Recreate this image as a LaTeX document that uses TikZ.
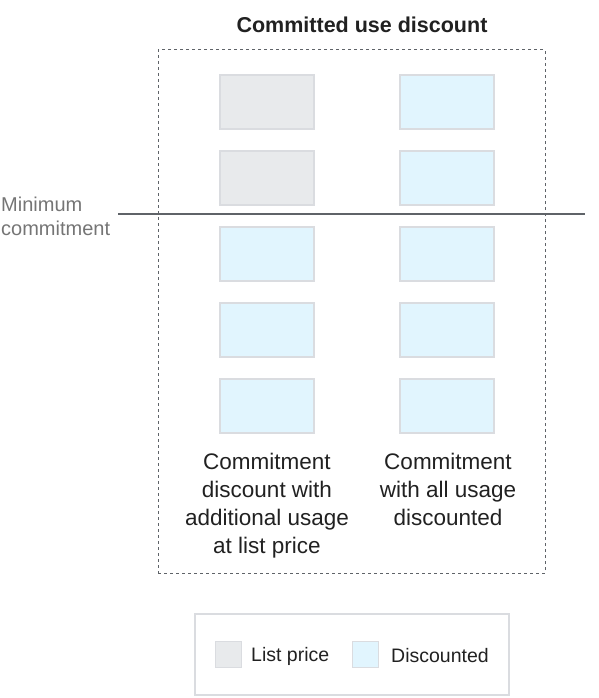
\documentclass[tikz,border=0pt]{standalone}
\usepackage{fontspec}
\setmainfont{Liberation Sans}
\definecolor{txt}{HTML}{212121}
\definecolor{graytxt}{HTML}{757575}
\definecolor{lp}{HTML}{E8EAEC}
\definecolor{dc}{HTML}{E1F5FE}
\definecolor{bd}{HTML}{DADCE0}
\definecolor{ln}{HTML}{5F6368}
\begin{document}
\begin{tikzpicture}[x=1pt,y=-1pt,
  cell/.style={draw=bd,line width=1.5pt,minimum width=94pt,minimum height=54pt,inner sep=0pt},
  listcell/.style={cell,fill=lp},
  disccell/.style={cell,fill=dc},
  swatch/.style={draw=bd,line width=1.5pt,minimum width=26pt,minimum height=26pt,inner sep=0pt},
  body/.style={text=txt,font=\fontsize{22.5}{28}\selectfont,align=center,inner sep=0pt},
  legtext/.style={text=txt,font=\fontsize{19.5}{22}\selectfont,anchor=west,inner sep=0pt}]
\useasboundingbox (0,0) rectangle (598,698);
% title
\node[text=txt,font=\fontsize{21.5}{24}\selectfont\bfseries,inner sep=0pt] (title) at (362,25) {Committed use discount};
% dashed frame
\node[draw=ln,dashed,dash pattern=on 3pt off 3pt,line width=1pt,minimum width=387pt,minimum height=523pt,inner sep=0pt] (frame) at (351.5,311.5) {};
% cells
\node[listcell] (l1) at (267,102) {};
\node[listcell] (l2) at (267,178) {};
\node[disccell] (l3) at (267,254) {};
\node[disccell] (l4) at (267,330) {};
\node[disccell] (l5) at (267,406) {};
\node[disccell] (r1) at (447,102) {};
\node[disccell] (r2) at (447,178) {};
\node[disccell] (r3) at (447,254) {};
\node[disccell] (r4) at (447,330) {};
\node[disccell] (r5) at (447,406) {};
% minimum commitment line
\coordinate (mcl) at (118,214);
\coordinate (mcr) at (585,214);
\draw[ln,line width=1.5pt] (mcl) -- (mcr);
\node[text=graytxt,font=\fontsize{20}{24}\selectfont,align=left,anchor=north west,inner sep=0pt] (mc) at (1,197) {Minimum\\commitment};
% captions
\node[body,anchor=north] (capl) at (267,453) {Commitment\\discount with\\additional usage\\at list price};
\node[body,anchor=north] (capr) at (448,453) {Commitment\\with all usage\\discounted};
% legend
\node[draw=bd,line width=1.5pt,minimum width=314pt,minimum height=81pt,inner sep=0pt] (legend) at (352,654.5) {};
\node[swatch,fill=lp] (s1) at (228.5,654.5) {};
\node[legtext] (t1) at (251,656) {List price};
\node[swatch,fill=dc] (s2) at (365.5,654.5) {};
\node[legtext] (t2) at (391,656) {Discounted};
\end{tikzpicture}
\end{document}
